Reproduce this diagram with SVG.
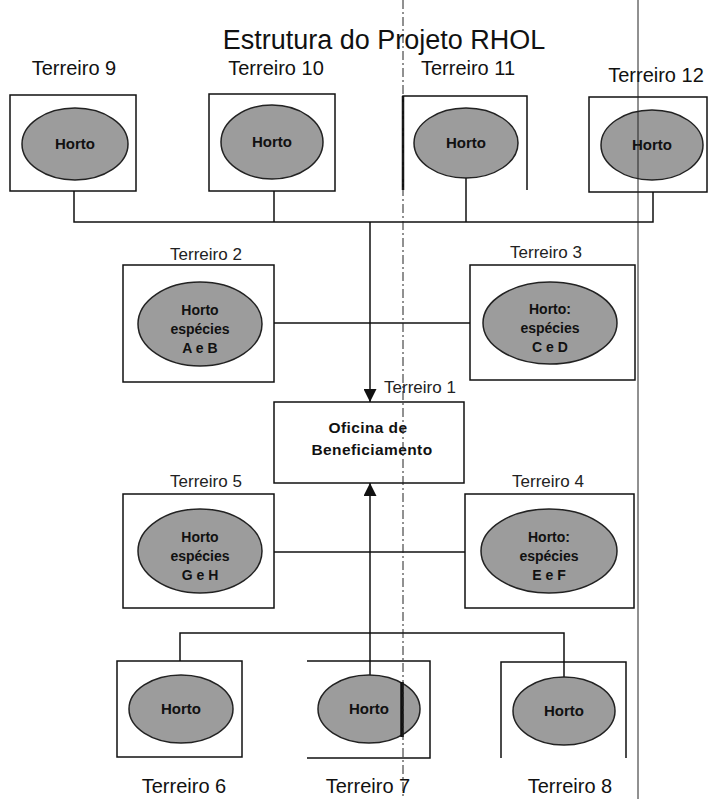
<svg xmlns="http://www.w3.org/2000/svg" width="710" height="799" viewBox="0 0 710 799">
<defs>
<style>
text{font-family:"Liberation Sans",Arial,sans-serif;fill:#111}
.title{font-size:27px;text-anchor:middle}
.lbl{font-size:20px;text-anchor:middle}
.lbs{font-size:17px;text-anchor:middle;fill:#222}
.in{font-size:15px;font-weight:bold;text-anchor:middle}
.in2{font-size:14px;font-weight:bold;text-anchor:middle}
.ctr{font-size:15.5px;font-weight:bold;text-anchor:middle;letter-spacing:0.4px}
.box{fill:#fff;stroke:#111;stroke-width:1.5}
.open{fill:none;stroke:#111;stroke-width:1.5}
.ell{fill:#9c9c9c;stroke:#222;stroke-width:1.5}
.con{fill:none;stroke:#111;stroke-width:1.5}
.scan{fill:none;stroke:#222;stroke-width:1}
</style>
<marker id="arr" viewBox="0 0 10 10" refX="10" refY="5" markerWidth="19" markerHeight="13" markerUnits="userSpaceOnUse" orient="auto">
<path d="M0,0 L10,5 L0,10 z" fill="#111"/>
</marker>
</defs>
<rect width="710" height="799" fill="#fff"/>

<g id="title"><text class="title" x="384" y="49">Estrutura do Projeto RHOL</text></g>

<g id="connectors">
<path class="con" d="M74,180 V222 H653 V180"/>
<path class="con" d="M274,178 V222"/>
<path class="con" d="M466,178 V222"/>
<path class="con" d="M370,222 V402" marker-end="url(#arr)"/>
<path class="con" d="M263,323 H483"/>
<path class="con" d="M263,552 H481"/>
<path class="con" d="M180,675 V633 H564 V678"/>
<path class="con" d="M370,675 V483" marker-end="url(#arr)"/>
</g>

<g id="t9">
<text class="lbl" x="74" y="75">Terreiro 9</text>
<rect class="box" x="10" y="95" width="126" height="96"/>
<ellipse class="ell" cx="75" cy="144" rx="53" ry="36"/>
<text class="in" x="75" y="149">Horto</text>
</g>
<g id="t10">
<text class="lbl" x="276" y="75">Terreiro 10</text>
<rect class="box" x="209" y="94" width="126" height="97"/>
<ellipse class="ell" cx="272" cy="142" rx="51" ry="37"/>
<text class="in" x="272" y="147">Horto</text>
</g>
<g id="t11">
<text class="lbl" x="468" y="75">Terreiro 11</text>
<path class="open" d="M403,190 V96 H527 V190"/>
<path d="M403,96 V190" stroke="#111" stroke-width="2.5"/>
<ellipse class="ell" cx="466" cy="143" rx="52" ry="35"/>
<text class="in" x="466" y="148">Horto</text>
</g>
<g id="t12">
<text class="lbl" x="656" y="82">Terreiro 12</text>
<rect class="box" x="589" y="97" width="118" height="95"/>
<ellipse class="ell" cx="652" cy="145" rx="51" ry="35"/>
<text class="in" x="652" y="150">Horto</text>
</g>

<g id="t2">
<text class="lbs" x="206" y="260">Terreiro 2</text>
<rect class="box" x="123" y="265" width="151" height="117"/>
<ellipse class="ell" cx="200" cy="324" rx="62" ry="42"/>
<text class="in2" x="200" y="315">Horto</text>
<text class="in2" x="200" y="334">espécies</text>
<text class="in2" x="200" y="353">A e B</text>
</g>
<g id="t3">
<text class="lbs" x="546" y="258">Terreiro 3</text>
<rect class="box" x="470" y="265" width="165" height="115"/>
<ellipse class="ell" cx="550" cy="323" rx="67" ry="41"/>
<text class="in2" x="550" y="314">Horto:</text>
<text class="in2" x="550" y="333">espécies</text>
<text class="in2" x="550" y="352">C e D</text>
</g>

<g id="t1">
<text class="lbs" x="420" y="393">Terreiro 1</text>
<rect class="box" x="274" y="402" width="190" height="81"/>
<text class="ctr" x="368" y="433">Oficina de</text>
<text class="ctr" x="372" y="455">Beneficiamento</text>
</g>

<g id="t5">
<text class="lbs" x="206" y="487">Terreiro 5</text>
<rect class="box" x="123" y="494" width="151" height="114"/>
<ellipse class="ell" cx="200" cy="551" rx="62" ry="42"/>
<text class="in2" x="200" y="542">Horto</text>
<text class="in2" x="200" y="561">espécies</text>
<text class="in2" x="200" y="580">G e H</text>
</g>
<g id="t4">
<text class="lbs" x="548" y="487">Terreiro 4</text>
<rect class="box" x="465" y="494" width="169" height="114"/>
<ellipse class="ell" cx="549" cy="551" rx="68" ry="42"/>
<text class="in2" x="549" y="542">Horto:</text>
<text class="in2" x="549" y="561">espécies</text>
<text class="in2" x="549" y="580">E e F</text>
</g>

<g id="t6">
<rect class="box" x="117" y="661" width="125" height="96"/>
<ellipse class="ell" cx="181" cy="709" rx="52" ry="34"/>
<text class="in" x="181" y="714">Horto</text>
<text class="lbl" x="184" y="793">Terreiro 6</text>
</g>
<g id="t7">
<path class="open" d="M307,661 H430 V758 H307"/>
<ellipse class="ell" cx="369" cy="709" rx="51" ry="34"/>
<path d="M402,682 V737" stroke="#111" stroke-width="3.5"/>
<text class="in" x="369" y="714">Horto</text>
<text class="lbl" x="368" y="793">Terreiro 7</text>
</g>
<g id="t8">
<path class="open" d="M501,758 V662 H626 V758"/>
<ellipse class="ell" cx="564" cy="711" rx="51" ry="34"/>
<text class="in" x="564" y="716">Horto</text>
<text class="lbl" x="570" y="793">Terreiro 8</text>
</g>

<g id="scan-lines">
<path class="scan" d="M403,0 V799" stroke-dasharray="9,3,2,3"/>
<path class="scan" d="M638,0 V799"/>
</g>
</svg>
